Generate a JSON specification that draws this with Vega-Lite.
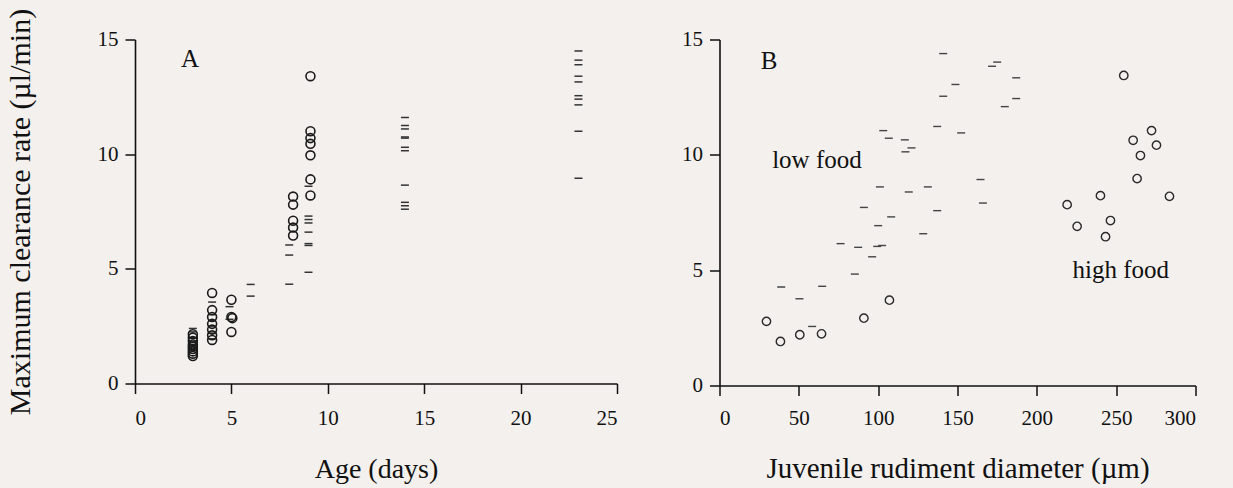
{
  "$schema": "https://vega.github.io/schema/vega-lite/v6.json",
  "background": "#f3f0ed",
  "padding": {"left": 4, "top": 7.5, "right": 38, "bottom": 10},
  "autosize": {"type": "pad"},
  "bounds": "flush",
  "spacing": 102.5,
  "datasets": {
    "ageHigh": [
      {"x": 3, "y": 2.15}, {"x": 3, "y": 2.0}, {"x": 3, "y": 1.85}, {"x": 3, "y": 1.7}, {"x": 3, "y": 1.6}, {"x": 3, "y": 1.5}, {"x": 3, "y": 1.4}, {"x": 3, "y": 1.3}, {"x": 3, "y": 1.2},
      {"x": 4, "y": 3.95}, {"x": 4, "y": 3.2}, {"x": 4, "y": 2.9}, {"x": 4, "y": 2.6}, {"x": 4, "y": 2.35}, {"x": 4, "y": 2.1}, {"x": 4, "y": 1.9},
      {"x": 5, "y": 3.65}, {"x": 5, "y": 2.9}, {"x": 5.05, "y": 2.85}, {"x": 5, "y": 2.25},
      {"x": 8.2, "y": 8.15}, {"x": 8.2, "y": 7.8}, {"x": 8.2, "y": 7.1}, {"x": 8.2, "y": 6.8}, {"x": 8.2, "y": 6.45},
      {"x": 9.1, "y": 13.4}, {"x": 9.1, "y": 11.0}, {"x": 9.1, "y": 10.7}, {"x": 9.1, "y": 10.45}, {"x": 9.1, "y": 9.95}, {"x": 9.1, "y": 8.9}, {"x": 9.1, "y": 8.2}
    ],
    "ageLow": [
      {"x": 3, "y": 2.4}, {"x": 3, "y": 2.25}, {"x": 3, "y": 2.0}, {"x": 3, "y": 1.8}, {"x": 3, "y": 1.6}, {"x": 3, "y": 1.45},
      {"x": 4, "y": 3.55}, {"x": 4, "y": 3.0}, {"x": 4, "y": 2.75}, {"x": 4, "y": 2.5}, {"x": 4, "y": 2.2}, {"x": 4, "y": 1.95},
      {"x": 4.9, "y": 3.35}, {"x": 4.9, "y": 2.8},
      {"x": 6, "y": 4.32}, {"x": 6, "y": 3.81},
      {"x": 8, "y": 6.04}, {"x": 8, "y": 5.6}, {"x": 8, "y": 4.33},
      {"x": 9, "y": 8.6}, {"x": 9, "y": 7.3}, {"x": 9, "y": 7.15}, {"x": 9, "y": 7.0}, {"x": 9, "y": 6.6}, {"x": 9, "y": 6.1}, {"x": 9, "y": 6.02}, {"x": 9, "y": 4.85},
      {"x": 14, "y": 11.6}, {"x": 14, "y": 11.25}, {"x": 14, "y": 11.1}, {"x": 14, "y": 10.75}, {"x": 14, "y": 10.7}, {"x": 14, "y": 10.3}, {"x": 14, "y": 10.15}, {"x": 14, "y": 8.65}, {"x": 14, "y": 7.9}, {"x": 14, "y": 7.75}, {"x": 14, "y": 7.6},
      {"x": 23, "y": 14.5}, {"x": 23, "y": 14.1}, {"x": 23, "y": 13.9}, {"x": 23, "y": 13.4}, {"x": 23, "y": 13.15}, {"x": 23, "y": 12.55}, {"x": 23, "y": 12.4}, {"x": 23, "y": 12.15}, {"x": 23, "y": 11.0}, {"x": 23, "y": 8.95}
    ],
    "diamHigh": [
      {"x": 29.6, "y": 2.78}, {"x": 38.4, "y": 1.91}, {"x": 50.6, "y": 2.2}, {"x": 64.3, "y": 2.24}, {"x": 91.0, "y": 2.92}, {"x": 107.1, "y": 3.7},
      {"x": 254.8, "y": 13.44}, {"x": 272.3, "y": 11.05}, {"x": 260.7, "y": 10.63}, {"x": 275.4, "y": 10.42}, {"x": 265.3, "y": 9.97}, {"x": 263.2, "y": 8.97},
      {"x": 283.6, "y": 8.2}, {"x": 240.1, "y": 8.23}, {"x": 219.1, "y": 7.84}, {"x": 225.4, "y": 6.9}, {"x": 246.4, "y": 7.15}, {"x": 243.3, "y": 6.45}
    ],
    "diamLow": [
      {"x": 141.0, "y": 14.39}, {"x": 175.0, "y": 14.02}, {"x": 171.8, "y": 13.84}, {"x": 187.0, "y": 13.34}, {"x": 148.7, "y": 13.05}, {"x": 141.0, "y": 12.54},
      {"x": 187.0, "y": 12.44}, {"x": 179.8, "y": 12.09}, {"x": 137.2, "y": 11.23}, {"x": 103.2, "y": 11.05}, {"x": 152.3, "y": 10.95}, {"x": 106.7, "y": 10.72},
      {"x": 116.8, "y": 10.65}, {"x": 121.0, "y": 10.3}, {"x": 117.2, "y": 10.13}, {"x": 164.5, "y": 8.93}, {"x": 101.1, "y": 8.61}, {"x": 131.3, "y": 8.61},
      {"x": 119.3, "y": 8.39}, {"x": 166.0, "y": 7.91}, {"x": 91.0, "y": 7.72}, {"x": 137.2, "y": 7.58}, {"x": 108.2, "y": 7.31}, {"x": 100.0, "y": 6.93},
      {"x": 128.4, "y": 6.58}, {"x": 76.3, "y": 6.15}, {"x": 87.4, "y": 5.99}, {"x": 99.4, "y": 6.03}, {"x": 102.5, "y": 6.07}, {"x": 96.2, "y": 5.58},
      {"x": 85.3, "y": 4.83}, {"x": 38.9, "y": 4.27}, {"x": 64.7, "y": 4.3}, {"x": 50.4, "y": 3.76}, {"x": 58.4, "y": 2.56}
    ]
  },
  "hconcat": [
    {
      "width": 482,
      "height": 344,
      "encoding": {
        "x": {"field": "x", "type": "quantitative", "scale": {"domain": [0, 25], "nice": false},
              "axis": {"title": "Age (days)", "values": [0, 5, 10, 15, 20, 25], "titleY": 93.5, "titleBaseline": "alphabetic"}},
        "y": {"field": "y", "type": "quantitative", "scale": {"domain": [0, 15], "nice": false},
              "axis": {"title": "Maximum clearance rate (µl/min)", "values": [0, 5, 10, 15], "titleX": -106, "titleBaseline": "alphabetic", "titleFontSize": 30}}
      },
      "layer": [
        {"data": {"name": "ageLow"}, "mark": {"type": "tick", "orient": "horizontal", "size": 8, "thickness": 1.5, "color": "#333333", "opacity": 1}},
        {"data": {"name": "ageHigh"}, "mark": {"type": "point", "shape": "circle", "filled": false, "size": 80, "stroke": "#1a1a1a", "strokeWidth": 1.6, "opacity": 1}},
        {"data": {"values": [{"x": 2.85, "y": 14.13, "label": "A"}]}, "mark": {"type": "text", "fontSize": 25, "color": "#111111"}, "encoding": {"text": {"field": "label"}}}
      ]
    },
    {
      "width": 476,
      "height": 346,
      "encoding": {
        "x": {"field": "x", "type": "quantitative", "scale": {"domain": [0, 300], "nice": false},
              "axis": {"title": "Juvenile rudiment diameter (µm)", "values": [0, 50, 100, 150, 200, 250, 300], "titleY": 91.5, "titleBaseline": "alphabetic", "labelPadding": 11.5, "titleFontSize": 29}},
        "y": {"field": "y", "type": "quantitative", "scale": {"domain": [0, 15], "nice": false},
              "axis": {"title": null, "values": [0, 5, 10, 15]}}
      },
      "layer": [
        {"data": {"name": "diamLow"}, "mark": {"type": "tick", "orient": "horizontal", "size": 8, "thickness": 1.4, "color": "#444444", "opacity": 1}},
        {"data": {"name": "diamHigh"}, "mark": {"type": "point", "shape": "circle", "filled": false, "size": 70, "stroke": "#2a2a2a", "strokeWidth": 1.4, "opacity": 1}},
        {"data": {"values": [{"x": 31.2, "y": 14.07, "label": "B"}, {"x": 61.4, "y": 9.78, "label": "low food"}, {"x": 252.9, "y": 5.02, "label": "high food"}]},
         "mark": {"type": "text", "fontSize": 25, "color": "#111111"}, "encoding": {"text": {"field": "label"}}}
      ]
    }
  ],
  "config": {
    "font": "Liberation Serif",
    "view": {"stroke": null},
    "axis": {
      "grid": false,
      "domainColor": "#111111",
      "domainWidth": 1.6,
      "tickColor": "#111111",
      "tickWidth": 1.5,
      "tickSize": 10,
      "labelFont": "Liberation Serif",
      "labelFontSize": 21,
      "labelColor": "#111111",
      "labelPadding": 7,
      "titleFont": "Liberation Serif",
      "titleFontSize": 28,
      "titleFontWeight": "normal",
      "titleColor": "#111111"
    },
    "axisX": {"labelPadding": 13.5}
  }
}
